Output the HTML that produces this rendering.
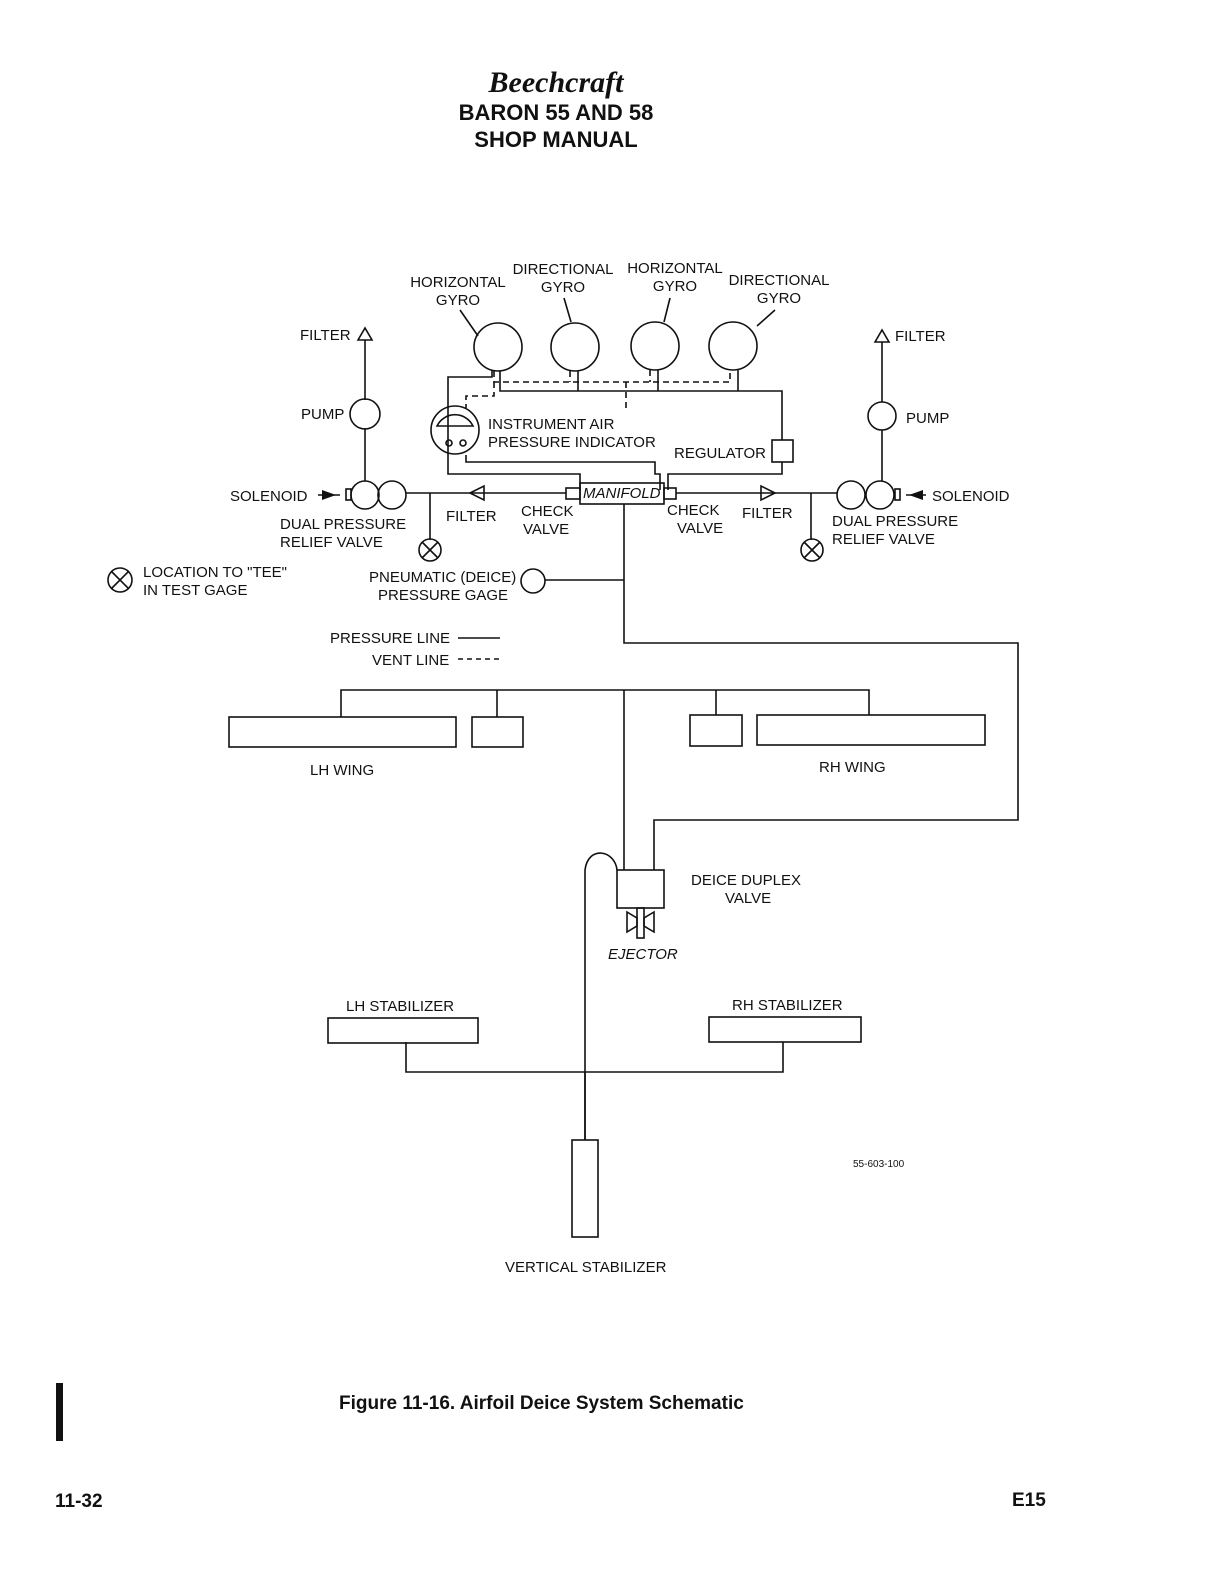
<!DOCTYPE html>
<html><head><meta charset="utf-8"><style>
html,body{margin:0;padding:0;background:#fff}
svg{display:block}
text{font-family:"Liberation Sans",sans-serif;fill:#111}
</style></head><body>
<svg width="1220" height="1584" viewBox="0 0 1220 1584" xmlns="http://www.w3.org/2000/svg">
<g text-anchor="middle">
<text x="556" y="92" font-family="Liberation Serif" font-size="30" font-style="italic" font-weight="bold" style="font-family:'Liberation Serif',serif">Beechcraft</text>
<text x="556" y="120" font-size="22" font-weight="bold">BARON 55 AND 58</text>
<text x="556" y="147" font-size="22" font-weight="bold">SHOP MANUAL</text>
</g>
<g font-size="15" text-anchor="middle">
<text x="458" y="287">HORIZONTAL</text><text x="458" y="305">GYRO</text>
<text x="563" y="274">DIRECTIONAL</text><text x="563" y="292">GYRO</text>
<text x="675" y="273">HORIZONTAL</text><text x="675" y="291">GYRO</text>
<text x="779" y="285">DIRECTIONAL</text><text x="779" y="303">GYRO</text>
</g>
<g stroke="#111" stroke-width="1.6" fill="none">
<!-- gyro arrows -->
<line x1="460" y1="310" x2="478" y2="336"/><line x1="564" y1="298" x2="571" y2="322"/>
<line x1="670" y1="298" x2="664" y2="322"/><line x1="775" y1="310" x2="757" y2="326"/>
<!-- gyros -->
<circle cx="498" cy="347" r="24"/><circle cx="575" cy="347" r="24"/>
<circle cx="655" cy="346" r="24"/><circle cx="733" cy="346" r="24"/>
<!-- pressure lines from gyros -->
<polyline points="500,371 500,391 782,391 782,440"/>
<line x1="578" y1="371" x2="578" y2="391"/><line x1="658" y1="370" x2="658" y2="391"/><line x1="738" y1="370" x2="738" y2="391"/>
<polyline points="492,371 492,377 448,377 448,474 580,474 580,490"/>
<polyline points="466,455 466,462 655,462 655,474 660,474 660,490"/>
<polyline points="668,490 668,474 782,474 782,462"/>
<rect x="772" y="440" width="21" height="22"/>
<!-- vent lines -->
<g stroke-dasharray="6,4">
<polyline points="494,371 494,382 730,382 730,371"/>
<line x1="570" y1="371" x2="570" y2="382"/><line x1="650" y1="370" x2="650" y2="382"/>
<line x1="626" y1="382" x2="626" y2="412"/>
<polyline points="494,382 494,396 466,396 466,408"/>
</g>
<!-- indicator -->
<circle cx="455" cy="430" r="24"/>
<path d="M437 426 A20 20 0 0 1 473 426 Z"/>
<circle cx="449" cy="443" r="3"/><circle cx="463" cy="443" r="3"/>
<!-- manifold -->
<rect x="580" y="483" width="84" height="21"/>
<rect x="566" y="488" width="14" height="11"/><rect x="664" y="488" width="12" height="11"/>
<!-- main line -->
<line x1="406" y1="493" x2="566" y2="493"/><line x1="676" y1="493" x2="837" y2="493"/>
<line x1="430" y1="493" x2="430" y2="540"/><line x1="811" y1="493" x2="811" y2="540"/>
<circle cx="430" cy="550" r="11"/><path d="M422 542 L438 558 M438 542 L422 558"/>
<circle cx="812" cy="550" r="11"/><path d="M804 542 L820 558 M820 542 L804 558"/>
<path d="M470 493 L484 486 L484 500 Z"/><path d="M775 493 L761 486 L761 500 Z"/>
<!-- left pump -->
<line x1="365" y1="340" x2="365" y2="400"/><line x1="365" y1="428" x2="365" y2="481"/>
<path d="M358 340 L365 328 L372 340 Z"/>
<circle cx="365" cy="414" r="15"/>
<circle cx="365" cy="495" r="14"/><circle cx="392" cy="495" r="14"/>
<rect x="346" y="489" width="5" height="11"/>
<line x1="318" y1="495" x2="340" y2="495"/>
<!-- right pump -->
<line x1="882" y1="342" x2="882" y2="402"/><line x1="882" y1="430" x2="882" y2="481"/>
<path d="M875 342 L882 330 L889 342 Z"/>
<circle cx="882" cy="416" r="14"/>
<circle cx="851" cy="495" r="14"/><circle cx="880" cy="495" r="14"/>
<rect x="895" y="489" width="5" height="11"/>
<line x1="906" y1="495" x2="926" y2="495"/>
<!-- location symbol -->
<circle cx="120" cy="580" r="12"/><path d="M111 571 L129 589 M129 571 L111 589"/>
<!-- gauge -->
<circle cx="533" cy="581" r="12"/><polyline points="545,580 624,580"/>
<!-- deice lines -->
<polyline points="624,504 624,643 1018,643 1018,820 654,820 654,870"/>
<line x1="624" y1="690" x2="624" y2="870"/>
<polyline points="341,717 341,690 869,690 869,715"/>
<line x1="497" y1="690" x2="497" y2="717"/><line x1="716" y1="690" x2="716" y2="715"/>
<rect x="229" y="717" width="227" height="30"/><rect x="472" y="717" width="51" height="30"/>
<rect x="690" y="715" width="52" height="31"/><rect x="757" y="715" width="228" height="30"/>
<rect x="617" y="870" width="47" height="38"/>
<rect x="637" y="908" width="7" height="30"/>
<path d="M627 912 L637 918 L637 926 L627 932 Z M654 912 L644 918 L644 926 L654 932 Z"/>
<path d="M617 870 C615 850 588 845 585 870 L585 1140"/>
<polyline points="406,1042 406,1072 783,1072 783,1042"/>
<line x1="585" y1="1072" x2="585" y2="1140"/>
<rect x="328" y="1018" width="150" height="25"/><rect x="709" y="1017" width="152" height="25"/>
<rect x="572" y="1140" width="26" height="97"/>
<line x1="458" y1="638" x2="500" y2="638"/>
<line x1="458" y1="659" x2="500" y2="659" stroke-dasharray="5,4"/>
</g>
<path d="M336 495 L322 490 L322 500 Z" fill="#111"/>
<path d="M909 495 L923 490 L923 500 Z" fill="#111"/>
<g font-size="15">
<text x="300" y="340">FILTER</text><text x="895" y="341">FILTER</text>
<text x="301" y="419">PUMP</text><text x="906" y="423">PUMP</text>
<text x="488" y="429">INSTRUMENT AIR</text><text x="488" y="447">PRESSURE INDICATOR</text>
<text x="674" y="458">REGULATOR</text>
<text x="230" y="501">SOLENOID</text><text x="932" y="501">SOLENOID</text>
<text x="583" y="498" font-style="italic">MANIFOLD</text>
<text x="280" y="529">DUAL PRESSURE</text><text x="280" y="547">RELIEF VALVE</text>
<text x="446" y="521">FILTER</text><text x="742" y="518">FILTER</text>
<text x="521" y="516">CHECK</text><text x="523" y="534">VALVE</text>
<text x="667" y="515">CHECK</text><text x="677" y="533">VALVE</text>
<text x="832" y="526">DUAL PRESSURE</text><text x="832" y="544">RELIEF VALVE</text>
<text x="143" y="577">LOCATION TO "TEE"</text><text x="143" y="595">IN TEST GAGE</text>
<text x="369" y="582">PNEUMATIC (DEICE)</text><text x="378" y="600">PRESSURE GAGE</text>
<text x="330" y="643">PRESSURE LINE</text><text x="372" y="665">VENT LINE</text>
<text x="310" y="775">LH WING</text><text x="819" y="772">RH WING</text>
<text x="691" y="885">DEICE DUPLEX</text><text x="725" y="903">VALVE</text>
<text x="608" y="959" font-style="italic">EJECTOR</text>
<text x="346" y="1011">LH STABILIZER</text><text x="732" y="1010">RH STABILIZER</text>
<text x="505" y="1272">VERTICAL STABILIZER</text>
</g>
<text x="853" y="1167" font-size="10">55-603-100</text>
<rect x="56" y="1383" width="7" height="58" fill="#111"/>
<text x="339" y="1409" font-size="19" font-weight="bold">Figure 11-16. Airfoil Deice System Schematic</text>
<text x="55" y="1507" font-size="19" font-weight="bold">11-32</text>
<text x="1012" y="1506" font-size="19" font-weight="bold">E15</text>
</svg>
</body></html>
